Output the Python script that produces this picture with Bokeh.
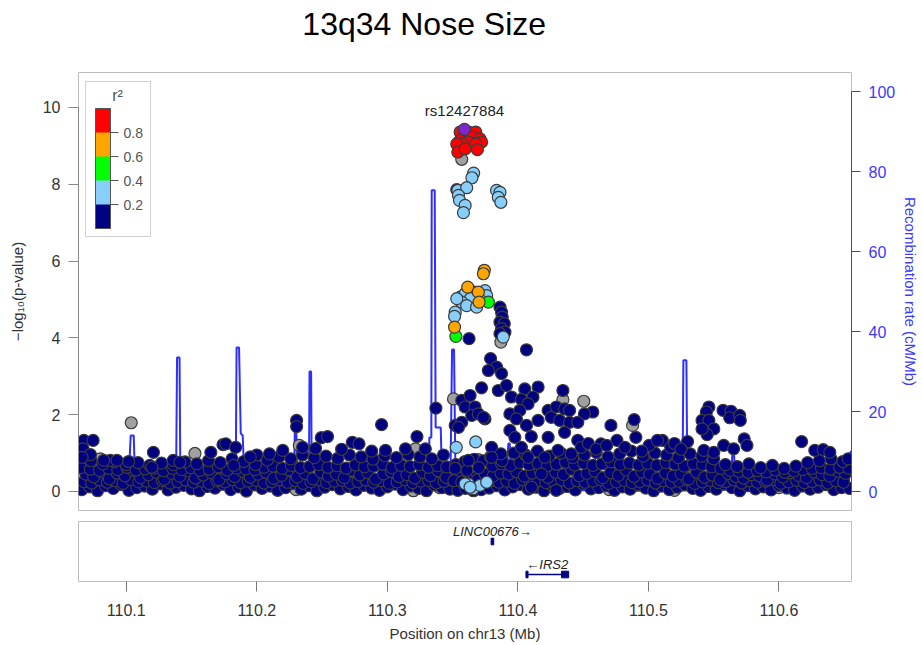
from bokeh.plotting import figure
from bokeh.models import (Range1d, LinearAxis, FixedTicker, ColorBar, LinearColorMapper,
                          Label, PrintfTickFormatter, BoxAnnotation)
from bokeh.core.properties import value
from bokeh.layouts import column
from bokeh.embed import file_html
from bokeh.resources import INLINE

FONT = "Liberation Sans"

# ---------------- data ----------------
title_text = "13q34 Nose Size"
lead_name = "rs12427884"
lead_pos = [110.3591]
lead_logp = [9.43]

red_pos = [110.3558, 110.3621, 110.3677, 110.3591, 110.3652, 110.3710, 110.3558, 110.3621,
           110.3722, 110.3573, 110.3677, 110.3532, 110.3690, 110.3540, 110.3596]
red_logp = [9.36, 9.36, 9.36, 9.23, 9.23, 9.18, 9.14, 9.10, 9.10, 9.05, 9.05, 9.05, 8.90, 8.84, 8.92]

orange_pos = [110.3743, 110.3736, 110.3616, 110.3697, 110.3703, 110.3515]
orange_logp = [5.76, 5.67, 5.32, 5.19, 4.93, 4.28]

green_pos = [110.3774, 110.3525]
green_logp = [4.93, 4.04]

lblue_pos = [110.3661, 110.3648, 110.3540, 110.3608, 110.3545, 110.3553, 110.3596, 110.3583,
             110.3837, 110.3863, 110.3850, 110.3870,
             110.3558, 110.3596, 110.3661, 110.3636, 110.3570, 110.3608, 110.3684, 110.3748,
             110.3761, 110.3532, 110.3716, 110.3520, 110.3515, 110.3888,
             110.3528, 110.3677, 110.3621, 110.3659, 110.3710, 110.3761, 110.3596, 110.3634]
lblue_logp = [8.29, 8.17, 7.84, 7.91, 7.71, 7.58, 7.45, 7.26,
              7.84, 7.79, 7.66, 7.53,
              5.06, 5.15, 5.19, 5.02, 4.93, 4.84, 4.80, 5.23,
              5.10, 5.02, 4.97, 4.67, 4.56, 4.02,
              1.15, 1.29, 0.20, 0.07, 0.16, 0.24, 0.20, 0.11]

gray_pos = [110.0802, 110.0695, 110.1038, 110.1526, 110.2326, 110.3215, 110.3507, 110.3697,
            110.4345, 110.4505, 110.4879, 110.5260, 110.3570, 110.3870,
            110.1250, 110.2300, 110.2600, 110.3200, 110.4400, 110.4700, 110.5200, 110.5350,
            110.6000, 110.6450, 110.0700, 110.1700, 110.3400]
gray_logp = [0.85, 0.55, 1.79, 0.99, 1.20, 1.11, 2.41, 0.83,
             2.39, 2.35, 1.72, 1.11, 8.65, 3.89,
             0.30, 0.05, 0.60, 0.02, 0.35, 0.05, 0.03, 0.45,
             0.10, 0.20, 0.20, 0.40, 0.10]

navy_pos = [110.0675, 110.0746, 110.0670, 110.0726, 110.0662,
            110.1208, 110.1196, 110.1648, 110.1741, 110.1762, 110.1838, 110.1823,
            110.1360, 110.1411, 110.1018, 110.0878, 110.0929, 110.0827,
            110.2305, 110.2305, 110.2494, 110.2542, 110.2732, 110.2783, 110.2956,
            110.2097, 110.2199, 110.2351, 110.2986, 110.3139, 110.2880, 110.2650, 110.2450,
            110.2000, 110.1950,
            110.3227, 110.3291, 110.3372,
            110.3570, 110.3634, 110.3596, 110.3672, 110.3647, 110.3697, 110.3748,
            110.3520, 110.3570, 110.3545, 110.3736, 110.3621,
            110.3722, 110.3850, 110.3913, 110.4053, 110.4155, 110.4345,
            110.3791, 110.3837, 110.3774, 110.3875, 110.4066,
            110.3951, 110.4027, 110.4116, 110.4078, 110.3939, 110.4015, 110.4232, 110.4295, 110.4358,
            110.3989, 110.4066, 110.4155, 110.4256, 110.4320, 110.4396,
            110.3939, 110.3977, 110.4103, 110.4232, 110.4358,
            110.3799, 110.3870, 110.3799, 110.4027, 110.4078, 110.4206, 110.4307, 110.4409,
            110.4180, 110.4104, 110.4294,
            110.4574, 110.4510, 110.4459, 110.4396,
            110.4713, 110.4891, 110.4637, 110.4459, 110.4485, 110.4759, 110.4904, 110.5006,
            110.5107, 110.5171, 110.5069,
            110.4540, 110.4600, 110.4680, 110.4820, 110.4950, 110.5200, 110.5300, 110.5250,
            110.5463, 110.5444, 110.5411, 110.5463, 110.5501, 110.5450, 110.5411,
            110.5572, 110.5633, 110.5623, 110.5699, 110.5704, 110.5734, 110.5755,
            110.6174, 110.6275, 110.6339, 110.6390, 110.6530,
            110.5425, 110.5501, 110.5577, 110.5653,
            110.3863, 110.3875, 110.3880, 110.3863, 110.3896, 110.3875, 110.3901, 110.3863,
            110.3626, 110.3532]
navy_logp = [1.33, 1.33, 1.11, 0.96, 0.89,
             1.02, 0.63, 1.02, 1.22, 1.24, 1.15, 0.68,
             0.81, 0.76, 0.78, 0.81, 0.81, 0.81,
             1.85, 1.69, 1.40, 1.43, 1.28, 1.24, 1.74,
             0.98, 1.07, 1.15, 1.07, 1.11, 1.05, 1.10, 1.12,
             0.95, 0.90,
             1.43, 1.11, 2.17,
             2.37, 2.50, 2.20, 2.20, 1.98, 2.02, 1.89,
             1.72, 1.80, 1.67, 1.93, 0.81,
             2.70, 2.63, 2.76, 2.67, 2.72, 2.63,
             3.46, 3.24, 3.15, 3.07, 3.69,
             2.46, 2.40, 2.46, 2.28, 2.02, 2.11, 2.11, 2.20, 2.15,
             1.89, 1.72, 1.85, 1.93, 1.85, 1.80,
             1.59, 1.41, 1.43, 1.41, 1.54,
             1.15, 0.98, 0.89, 1.15, 0.89, 0.89, 1.07, 0.98,
             0.46, 0.11, 0.03,
             2.07, 2.02, 1.80, 2.11,
             1.72, 1.87, 1.24, 1.33, 1.15, 1.33, 1.41, 1.20,
             1.33, 1.15, 1.33,
             1.25, 1.10, 1.20, 1.15, 1.05, 1.25, 1.30, 1.10,
             2.20, 2.07, 1.85, 1.85, 1.63, 1.48, 1.63,
             2.11, 2.09, 1.92, 1.98, 1.85, 1.37, 1.20,
             1.30, 1.07, 1.09, 1.02, 0.85,
             1.07, 1.02, 1.20, 1.11,
             4.80, 4.67, 4.54, 4.41, 4.37, 4.24, 4.15, 4.11,
             3.98, 7.86]

# dense low band (navy), several rows
bandA_pos = [110.066, 110.072, 110.078, 110.084, 110.090, 110.096, 110.102, 110.108, 110.114, 110.120,
             110.126, 110.132, 110.138, 110.144, 110.150, 110.156, 110.162, 110.168, 110.174, 110.180,
             110.186, 110.192, 110.198, 110.204, 110.210, 110.216, 110.222, 110.228, 110.234, 110.240,
             110.246, 110.252, 110.258, 110.264, 110.270, 110.276, 110.282, 110.288, 110.294, 110.300,
             110.306, 110.312, 110.318, 110.324, 110.330, 110.336, 110.342, 110.348, 110.354, 110.360,
             110.366, 110.372, 110.378, 110.384, 110.390, 110.396, 110.402, 110.408, 110.414, 110.420,
             110.426, 110.432, 110.438, 110.444, 110.450, 110.456, 110.462, 110.468, 110.474, 110.480,
             110.486, 110.492, 110.498, 110.504, 110.510, 110.516, 110.522, 110.528, 110.534, 110.540,
             110.546, 110.552, 110.558, 110.564, 110.570, 110.576, 110.582, 110.588, 110.594, 110.600,
             110.606, 110.612, 110.618, 110.624, 110.630, 110.636, 110.642, 110.648, 110.654]
bandA_logp = [0.05, 0.12, 0.02, 0.15, 0.08, 0.18, 0.03, 0.10, 0.14, 0.06,
              0.20, 0.04, 0.11, 0.16, 0.07, 0.02, 0.13, 0.09, 0.19, 0.05,
              0.12, 0.01, 0.17, 0.08, 0.14, 0.03, 0.10, 0.21, 0.06, 0.15,
              0.02, 0.11, 0.18, 0.07, 0.13, 0.04, 0.16, 0.09, 0.03, 0.12,
              0.19, 0.05, 0.14, 0.08, 0.02, 0.17, 0.10, 0.06, 0.03, 0.08,
              0.02, 0.05, 0.09, 0.15, 0.04, 0.12, 0.18, 0.06, 0.11, 0.02,
              0.16, 0.08, 0.13, 0.04, 0.20, 0.07, 0.10, 0.15, 0.03, 0.12,
              0.06, 0.18, 0.09, 0.02, 0.14, 0.05, 0.11, 0.17, 0.08, 0.03,
              0.13, 0.06, 0.19, 0.10, 0.02, 0.15, 0.07, 0.12, 0.04, 0.16,
              0.09, 0.03, 0.14, 0.06, 0.11, 0.18, 0.05, 0.10, 0.08]

bandD_pos = [110.0675, 110.0735, 110.0795, 110.0855, 110.0915, 110.0975, 110.1035, 110.1095, 110.1155, 110.1215,
             110.1275, 110.1335, 110.1395, 110.1455, 110.1515, 110.1575, 110.1635, 110.1695, 110.1755, 110.1815,
             110.1875, 110.1935, 110.1995, 110.2055, 110.2115, 110.2175, 110.2235, 110.2295, 110.2355, 110.2415,
             110.2475, 110.2535, 110.2595, 110.2655, 110.2715, 110.2775, 110.2835, 110.2895, 110.2955, 110.3015,
             110.3075, 110.3135, 110.3195, 110.3255, 110.3315, 110.3375, 110.3435, 110.3495, 110.3555, 110.3615,
             110.3675, 110.3735, 110.3795, 110.3855, 110.3915, 110.3975, 110.4035, 110.4095, 110.4155, 110.4215,
             110.4275, 110.4335, 110.4395, 110.4455, 110.4515, 110.4575, 110.4635, 110.4695, 110.4755, 110.4815,
             110.4875, 110.4935, 110.4995, 110.5055, 110.5115, 110.5175, 110.5235, 110.5295, 110.5355, 110.5415,
             110.5475, 110.5535, 110.5595, 110.5655, 110.5715, 110.5775, 110.5835, 110.5895, 110.5955, 110.6015,
             110.6075, 110.6135, 110.6195, 110.6255, 110.6315, 110.6375, 110.6435, 110.6495]
bandD_logp = [0.26, 0.22, 0.30, 0.24, 0.28, 0.21, 0.31, 0.25, 0.27, 0.23,
              0.29, 0.22, 0.26, 0.30, 0.24, 0.27, 0.21, 0.28, 0.25, 0.31,
              0.23, 0.27, 0.29, 0.22, 0.26, 0.30, 0.24, 0.28, 0.21, 0.25,
              0.31, 0.23, 0.27, 0.29, 0.22, 0.26, 0.30, 0.24, 0.28, 0.21,
              0.25, 0.31, 0.23, 0.27, 0.29, 0.22, 0.26, 0.30, 0.35, 0.38,
              0.36, 0.33, 0.28, 0.24, 0.27, 0.21, 0.31, 0.25, 0.29, 0.23,
              0.26, 0.30, 0.22, 0.28, 0.24, 0.27, 0.31, 0.21, 0.25, 0.29,
              0.23, 0.26, 0.30, 0.22, 0.28, 0.24, 0.27, 0.31, 0.21, 0.25,
              0.29, 0.23, 0.26, 0.30, 0.22, 0.28, 0.24, 0.27, 0.31, 0.21,
              0.25, 0.29, 0.23, 0.26, 0.30, 0.22, 0.28, 0.24]

bandB_pos = [110.069, 110.075, 110.081, 110.087, 110.093, 110.099, 110.105, 110.111, 110.117, 110.123,
             110.129, 110.135, 110.141, 110.147, 110.153, 110.159, 110.165, 110.171, 110.177, 110.183,
             110.189, 110.195, 110.201, 110.207, 110.213, 110.219, 110.225, 110.231, 110.237, 110.243,
             110.249, 110.255, 110.261, 110.267, 110.273, 110.279, 110.285, 110.291, 110.297, 110.303,
             110.309, 110.315, 110.321, 110.327, 110.333, 110.339, 110.345, 110.351, 110.357, 110.363,
             110.369, 110.375, 110.381, 110.387, 110.393, 110.399, 110.405, 110.411, 110.417, 110.423,
             110.429, 110.435, 110.441, 110.447, 110.453, 110.459, 110.465, 110.471, 110.477, 110.483,
             110.489, 110.495, 110.501, 110.507, 110.513, 110.519, 110.525, 110.531, 110.537, 110.543,
             110.549, 110.555, 110.561, 110.567, 110.573, 110.579, 110.585, 110.591, 110.597, 110.603,
             110.609, 110.615, 110.621, 110.627, 110.633, 110.639, 110.645, 110.651]
bandB_logp = [0.45, 0.38, 0.52, 0.33, 0.48, 0.41, 0.55, 0.36, 0.44, 0.50,
              0.32, 0.47, 0.40, 0.54, 0.35, 0.43, 0.49, 0.31, 0.46, 0.39,
              0.53, 0.37, 0.45, 0.50, 0.34, 0.42, 0.56, 0.38, 0.47, 0.33,
              0.51, 0.40, 0.45, 0.36, 0.55, 0.43, 0.49, 0.32, 0.46, 0.52,
              0.39, 0.44, 0.35, 0.50, 0.41, 0.54, 0.37, 0.28, 0.25, 0.27,
              0.30, 0.45, 0.40, 0.48, 0.45, 0.52, 0.40, 0.48, 0.55, 0.37,
              0.50, 0.44, 0.58, 0.41, 0.47, 0.53, 0.36, 0.49, 0.42, 0.56,
              0.39, 0.51, 0.45, 0.34, 0.48, 0.40, 0.46, 0.33, 0.50, 0.37,
              0.43, 0.31, 0.47, 0.39, 0.35, 0.44, 0.41, 0.30, 0.46, 0.38,
              0.49, 0.42, 0.36, 0.51, 0.44, 0.40, 0.53, 0.47]

bandE_pos = [110.0655, 110.0725, 110.0795, 110.0865, 110.0935, 110.1005, 110.1075, 110.1145, 110.1215, 110.1285,
             110.1355, 110.1425, 110.1495, 110.1565, 110.1635, 110.1705, 110.1775, 110.1845, 110.1915, 110.1985,
             110.2055, 110.2125, 110.2195, 110.2265, 110.2335, 110.2405, 110.2475, 110.2545, 110.2615, 110.2685,
             110.2755, 110.2825, 110.2895, 110.2965, 110.3035, 110.3105, 110.3175, 110.3245, 110.3315, 110.3385,
             110.3455, 110.3525, 110.3595, 110.3665, 110.3735, 110.3805, 110.3875, 110.3945, 110.4015, 110.4085,
             110.4155, 110.4225, 110.4295, 110.4365, 110.4435, 110.4505, 110.4575, 110.4645, 110.4715, 110.4785,
             110.4855, 110.4925, 110.4995, 110.5065, 110.5135, 110.5205, 110.5275, 110.5345, 110.5415, 110.5485,
             110.5555, 110.5625, 110.5695, 110.5765, 110.5835, 110.5905, 110.5975, 110.6045, 110.6115, 110.6185,
             110.6255, 110.6325, 110.6395, 110.6465, 110.6535]
bandE_logp = [0.62, 0.58, 0.55, 0.60, 0.57, 0.63, 0.56, 0.59, 0.61, 0.54,
              0.60, 0.57, 0.62, 0.55, 0.58, 0.64, 0.56, 0.61, 0.59, 0.57,
              0.63, 0.66, 0.60, 0.68, 0.62, 0.65, 0.70, 0.63, 0.67, 0.61,
              0.69, 0.64, 0.66, 0.71, 0.62, 0.68, 0.65, 0.70, 0.63, 0.67,
              0.64, 0.70, 0.78, 0.84, 0.80, 0.66, 0.72, 0.68, 0.75, 0.70,
              0.73, 0.67, 0.71, 0.76, 0.69, 0.74, 0.68, 0.72, 0.77, 0.70,
              0.74, 0.69, 0.73, 0.68, 0.75, 0.71, 0.66, 0.72, 0.70, 0.64,
              0.60, 0.55, 0.52, 0.50, 0.54, 0.51, 0.56, 0.50, 0.53, 0.57,
              0.60, 0.62, 0.58, 0.63, 0.60]

bandC_pos = [110.064, 110.073, 110.082, 110.091, 110.100, 110.109, 110.118, 110.127, 110.136, 110.145,
             110.154, 110.163, 110.172, 110.181, 110.190, 110.199, 110.208, 110.217, 110.226, 110.235,
             110.244, 110.253, 110.262, 110.271, 110.280, 110.289, 110.298, 110.307, 110.316, 110.325,
             110.334, 110.343, 110.352, 110.361, 110.370, 110.379, 110.388, 110.397, 110.406, 110.415,
             110.424, 110.433, 110.442, 110.451, 110.460, 110.469, 110.478, 110.487, 110.496, 110.505,
             110.514, 110.523, 110.532, 110.541, 110.550, 110.559, 110.568, 110.577, 110.586, 110.595,
             110.604, 110.613, 110.622, 110.631, 110.640, 110.649]
bandC_logp = [0.95, 0.80, 0.72, 0.78, 0.70, 0.75, 0.68, 0.74, 0.70, 0.77,
              0.72, 0.80, 0.75, 0.85, 0.78, 0.70, 0.82, 0.90, 0.85, 0.95,
              0.88, 0.92, 0.86, 0.95, 0.90, 0.84, 0.93, 0.88, 0.96, 0.90,
              0.85, 0.95, 0.60, 0.55, 0.62, 0.90, 0.80, 1.00, 0.95, 1.05,
              0.92, 1.00, 0.88, 0.95, 1.02, 0.90, 0.98, 1.05, 0.92, 1.00,
              0.95, 0.88, 0.98, 0.92, 0.85, 0.70, 0.65, 0.72, 0.62, 0.68,
              0.60, 0.66, 0.75, 0.80, 0.85, 0.78]

# recombination rate (cM/Mb)
recomb_pos = [110.0634, 110.0649, 110.0665, 110.1015, 110.1034, 110.1057, 110.1069, 110.1381,
              110.1389, 110.1408, 110.1415, 110.1838, 110.1845, 110.1864, 110.1877, 110.1892,
              110.1899, 110.1915, 110.2284, 110.2291, 110.2303, 110.2311, 110.2399, 110.2404,
              110.2416, 110.2421, 110.3318, 110.3322, 110.3337, 110.3340, 110.3363, 110.3370,
              110.3409, 110.3416, 110.3485, 110.3496, 110.3511, 110.3523, 110.3881, 110.3889,
              110.3900, 110.3911, 110.3927, 110.3938, 110.3950, 110.4224, 110.4232, 110.4255,
              110.4270, 110.4590, 110.4594, 110.4613, 110.4620, 110.4689, 110.4697, 110.4704,
              110.4750, 110.4757, 110.4765, 110.4841, 110.4849, 110.4857, 110.5261, 110.5268,
              110.5291, 110.5299, 110.5634, 110.5642, 110.5657, 110.5665, 110.6534, 110.6550,
              110.6556]
recomb_rate = [13, 13, 3, 1, 14, 14, 1, 0.5,
               33.5, 33.5, 0.5, 0.5, 36, 36, 14.5, 14,
               8, 1, 1, 15, 15, 1, 1, 30,
               30, 1, 1, 13.5, 13.5, 75.3, 75.3, 16,
               16, 7, 7, 35.5, 35.5, 1, 1, 10,
               10, 2, 12, 12, 1, 1, 1.5, 1.5,
               0.3, 0.3, 12, 12, 0.5, 0.5, 1.8, 0.5,
               0.5, 2, 0.5, 0.5, 1, 0.2, 0.2, 32.8,
               32.8, 0.5, 0.5, 9, 9, 0.5, 0.5, 10,
               10]

# genes
gene_names = ["LINC00676", "IRS2"]
gene_start = [110.3795, 110.4062]
gene_end = [110.3815, 110.4389]
gene_strand = ["+", "-"]
gene_row = [1, 0]
exon_start = [110.3795, 110.4062, 110.4335]
exon_end = [110.3815, 110.4078, 110.4389]
exon_row = [1, 0, 0]

r2_breaks = [0.2, 0.4, 0.6, 0.8]
r2_colors = ["#000080", "#87CEFA", "#00FF00", "#FFA500", "#FF0000"]
left_ticks = [0, 2, 4, 6, 8, 10]
right_ticks = [0, 20, 40, 60, 80, 100]
x_ticks = [110.1, 110.2, 110.3, 110.4, 110.5, 110.6]

# ---------------- styling ----------------
X_RANGE = (110.0634, 110.6556)
EDGE = "#3c3c3c"
BLUE = "#3a3aff"
LINE_BLUE = "#2e2eff"
TXT = "#333333"
FRAME = "#bdbdbd"
SZ = 12
W = 922

# ---------------- title strip ----------------
p0 = figure(width=W, height=72, x_range=Range1d(0, W), y_range=Range1d(0, 72),
            output_backend="svg", toolbar_location=None, x_axis_location=None,
            y_axis_location=None, min_border=0)
p0.grid.visible = False
p0.outline_line_color = None
p0.text(x=[267], y=[49], text=[title_text], text_align="left", text_baseline="alphabetic",
        text_font=value(FONT), text_font_size="32px", text_color="black")

# ---------------- association panel ----------------
p1 = figure(width=W, height=444, x_range=Range1d(*X_RANGE), y_range=Range1d(-0.495, 10.91),
            output_backend="svg", toolbar_location=None, x_axis_location=None,
            min_border_left=78, min_border_right=67, min_border_top=0, min_border_bottom=6)
p1.extra_y_ranges = {"recomb": Range1d(-4.75, 104.75)}
p1.grid.visible = False
p1.outline_line_color = FRAME
p1.background_fill_color = "white"
p1.border_fill_color = "white"

ya = p1.yaxis[0]
ya.ticker = FixedTicker(ticks=left_ticks)
ya.bounds = (0, 10)
ya.axis_label = "\u2212log\u2081\u2080(p-value)"
ya.axis_label_text_font = FONT
ya.axis_label_text_font_size = "15px"
ya.axis_label_text_font_style = "normal"
ya.axis_label_text_color = TXT
ya.axis_label_standoff = 14
ya.major_label_text_font = FONT
ya.major_label_text_font_size = "16px"
ya.major_label_text_color = TXT
ya.major_label_standoff = 8
ya.major_tick_out = 10
ya.major_tick_in = 0
ya.minor_tick_line_color = None
ya.axis_line_color = "#888888"
ya.major_tick_line_color = "#888888"

ra = LinearAxis(y_range_name="recomb", ticker=FixedTicker(ticks=right_ticks), bounds=(0, 100))
ra.axis_label = "Recombination rate (cM/Mb)"
ra.axis_label_text_font = FONT
ra.axis_label_text_font_size = "15px"
ra.axis_label_text_font_style = "normal"
ra.axis_label_text_color = BLUE
ra.axis_label_standoff = 4
ra.major_label_text_font = FONT
ra.major_label_text_font_size = "16px"
ra.major_label_text_color = BLUE
ra.major_label_standoff = 8
ra.major_tick_out = 9
ra.major_tick_in = 0
ra.minor_tick_line_color = None
ra.axis_line_color = BLUE
ra.major_tick_line_color = BLUE
p1.add_layout(ra, "right")

# recombination line
p1.line(recomb_pos, recomb_rate, y_range_name="recomb", line_color=LINE_BLUE, line_width=2)

# points
pt = dict(size=SZ, line_color=EDGE, line_width=1.2)
p1.scatter(gray_pos, gray_logp, fill_color="#A0A0A0", **pt)
for xs, ys in [(bandA_pos, bandA_logp), (bandD_pos, bandD_logp), (bandB_pos, bandB_logp),
               (bandE_pos, bandE_logp), (bandC_pos, bandC_logp), (navy_pos, navy_logp)]:
    p1.scatter(xs, ys, fill_color=r2_colors[0], **pt)
p1.scatter(lblue_pos, lblue_logp, fill_color=r2_colors[1], **pt)
p1.scatter(green_pos, green_logp, fill_color=r2_colors[2], **pt)
p1.scatter(orange_pos, orange_logp, fill_color=r2_colors[3], **pt)
p1.scatter(red_pos, red_logp, fill_color=r2_colors[4], **pt)
p1.scatter(lead_pos, lead_logp, fill_color="#7D26CD", **pt)

p1.add_layout(Label(x=lead_pos[0], y=lead_logp[0], text=lead_name, text_align="center",
                    text_baseline="bottom", y_offset=10, text_font=FONT, text_font_size="15px",
                    text_color="#222222"))

# r^2 legend: box, title and colour bar
p1.add_layout(BoxAnnotation(left=7, right=72, bottom=274, top=429,
                            left_units="screen", right_units="screen",
                            bottom_units="screen", top_units="screen",
                            fill_color="white", fill_alpha=1.0, line_color="#666666",
                            line_width=1, level="annotation"))
p1.add_layout(Label(x=39, y=415, x_units="screen", y_units="screen", text="r\u00b2",
                    text_align="center", text_baseline="middle", text_font=FONT,
                    text_font_size="16px", text_color="#555555"))
mapper = LinearColorMapper(palette=r2_colors, low=0, high=1)
cb = ColorBar(color_mapper=mapper, ticker=FixedTicker(ticks=r2_breaks),
              formatter=PrintfTickFormatter(format="%.1f"),
              location=(17, 282), orientation="vertical", width=15, height=120,
              margin=0, padding=0, title=None,
              major_label_text_font=FONT, major_label_text_font_size="14px",
              major_label_text_color="#555555", label_standoff=5,
              major_tick_in=0, major_tick_out=8, major_tick_line_color="#555555",
              minor_tick_line_color=None, bar_line_color="#555555",
              border_line_color=None, background_fill_color=None)
p1.add_layout(cb)

# ---------------- gene panel ----------------
p2 = figure(width=W, height=129, x_range=p1.x_range, y_range=Range1d(-0.212, 1.606),
            output_backend="svg", toolbar_location=None, y_axis_location=None,
            min_border_left=78, min_border_right=67, min_border_top=5, min_border_bottom=64)
p2.grid.visible = False
p2.outline_line_color = FRAME
xa = p2.xaxis[0]
xa.ticker = FixedTicker(ticks=x_ticks)
xa.formatter = PrintfTickFormatter(format="%.1f")
xa.bounds = (x_ticks[0], x_ticks[-1])
xa.axis_line_color = None
xa.major_tick_line_color = "#777777"
xa.major_tick_out = 10
xa.major_tick_in = 0
xa.minor_tick_line_color = None
xa.major_label_text_font = FONT
xa.major_label_text_font_size = "16px"
xa.major_label_text_color = TXT
xa.major_label_standoff = 12
xa.axis_label = "Position on chr13 (Mb)"
xa.axis_label_text_font = FONT
xa.axis_label_text_font_size = "15px"
xa.axis_label_text_font_style = "normal"
xa.axis_label_text_color = TXT
xa.axis_label_standoff = 6

p2.segment(gene_start, gene_row, gene_end, gene_row, line_color="#000080", line_width=1.5)
p2.quad(left=exon_start, right=exon_end, bottom=[r - 0.1 for r in exon_row],
        top=[r + 0.1 for r in exon_row], fill_color="#000080", line_color="#000080")
for name, s, e, strand, row in zip(gene_names, gene_start, gene_end, gene_strand, gene_row):
    txt = name + "\u2192" if strand == "+" else "\u2190" + name
    p2.add_layout(Label(x=(s + e) / 2, y=row, text=txt, text_align="center",
                        text_baseline="bottom", y_offset=3, text_font=FONT,
                        text_font_size="13px", text_font_style="italic", text_color="#222222"))

layout = column(p0, p1, p2)
open("out.html", "w").write(file_html(layout, INLINE))
